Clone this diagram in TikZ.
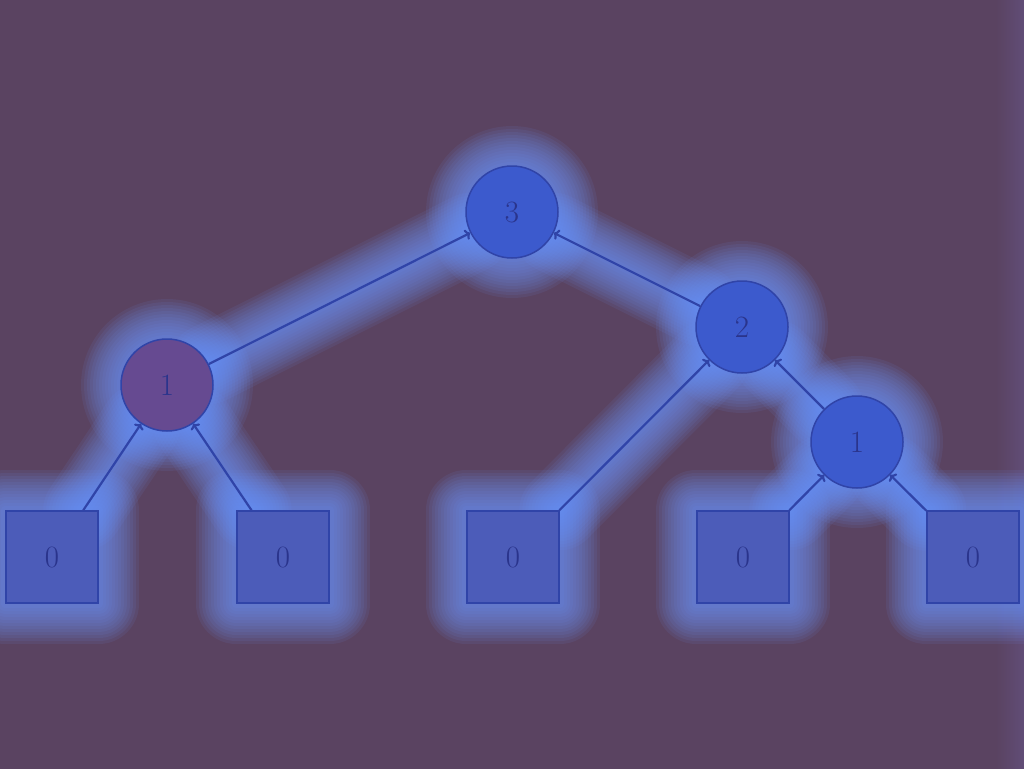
\documentclass[tikz,border=0pt]{standalone}
\usetikzlibrary{backgrounds,arrows.meta}
\definecolor{bgcol}{RGB}{90,67,97}
\definecolor{bgedge}{RGB}{98,78,122}
\definecolor{glowcol}{RGB}{110,150,255}
\definecolor{edgecol}{RGB}{48,68,168}
\definecolor{txtcol}{RGB}{42,52,140}
\definecolor{circfill}{RGB}{60,90,205}
\definecolor{purpfill}{RGB}{102,74,145}
\definecolor{sqfill}{RGB}{76,92,185}
\tikzset{
  x=1pt,y=-1pt,
  base/.style={draw=edgecol,line width=1.5pt,text=txtcol,inner sep=0pt,
    font=\fontsize{31}{36}\selectfont},
  circ/.style={base,circle,minimum size=92pt,fill=circfill},
  pcirc/.style={base,circle,minimum size=92pt,fill=purpfill},
  sq/.style={base,rectangle,minimum size=92pt,fill=sqfill},
  edge/.style={draw=edgecol,line width=2.2pt,-{To[length=5pt,width=11pt]}},
  glow/.style={draw=glowcol,line cap=round,line join=round},
}
\begin{document}
\begin{tikzpicture}
\useasboundingbox (0,0) rectangle (1024,768);
% nodes
\node[circ]  (n3) at (512,212) {3};
\node[circ]  (n2) at (742,327) {2};
\node[circ]  (r1) at (857,442) {1};
\node[pcirc] (l1) at (167,385) {1};
\node[sq] (s1) at (52,557)  {0};
\node[sq] (s2) at (283,557) {0};
\node[sq] (s3) at (513,557) {0};
\node[sq] (s4) at (743,557) {0};
\node[sq] (s5) at (973,557) {0};
\begin{pgfonlayer}{background}
  \fill[bgcol] (-4,-4) rectangle (1028,772);
  \shade[left color=bgcol,right color=bgedge] (996,-4) rectangle (1028,772);
  \foreach \w in {80,74,68,62,56,50,44,38,32,26,20,14,8}{
    \begin{scope}[glow,line width=\w pt,opacity=0.085]
    \draw (s1) -- (l1);
    \draw (s2) -- (l1);
    \draw (l1) -- (n3);
    \draw (n2) -- (n3);
    \draw (s3) -- (n2);
    \draw (r1) -- (n2);
    \draw (s4) -- (r1);
    \draw (s5) -- (r1);
    \foreach \n in {n3,n2,r1,l1}{
      \draw (\n.center) circle (46);
    }
    \foreach \n in {s1,s2,s3,s4,s5}{
      \draw (\n.south west) rectangle (\n.north east);
    }
    \end{scope}
  }
\end{pgfonlayer}
% connectors
\draw[edge] (s1) -- (l1);
\draw[edge] (s2) -- (l1);
\draw[edge] (l1) -- (n3);
\draw[edge] (n2) -- (n3);
\draw[edge] (s3) -- (n2);
\draw[edge] (r1) -- (n2);
\draw[edge] (s4) -- (r1);
\draw[edge] (s5) -- (r1);
\end{tikzpicture}
\end{document}
